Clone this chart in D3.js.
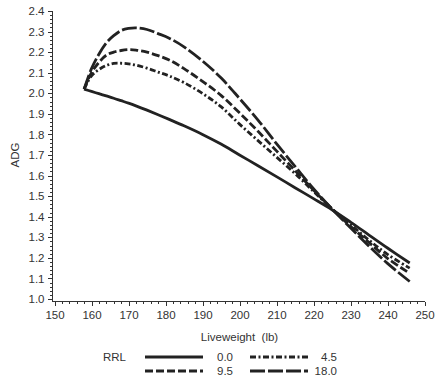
<!DOCTYPE html>
<meta charset="utf-8">
<style>
body { margin: 0; background: #fff; }
svg { font-family: "Liberation Sans", Arial, sans-serif; }
.axis text { font-size: 11.5px; fill: #333; }
.axis line, .axis path { stroke: #333; stroke-width: 1; shape-rendering: crispEdges; }
.curve { fill: none; stroke: #222; stroke-width: 2.8; }
.lab { font-size: 11.5px; fill: #333; }
</style>
<body>
<div id="chart"></div>
<script src="https://d3js.org/d3.v7.min.js"></script>
<script>

// liveweight (lb)
var weights = [158, 160, 162, 164, 166, 168, 170, 172, 175, 178, 181, 185, 190, 195, 200, 205, 210, 215, 220, 225, 230, 235, 240, 246];

// ADG for each RRL level
var rrl00  = [2.02, 2.009, 1.998, 1.987, 1.976, 1.964, 1.952, 1.939, 1.918, 1.896, 1.873, 1.842, 1.8, 1.753, 1.70, 1.648, 1.595, 1.541, 1.488, 1.434, 1.374, 1.311, 1.248, 1.175];
var rrl45  = [2.02, 2.085, 2.115, 2.135, 2.145, 2.146, 2.143, 2.137, 2.122, 2.103, 2.084, 2.052, 1.999, 1.935, 1.85, 1.77, 1.69, 1.61, 1.523, 1.438, 1.362, 1.286, 1.217, 1.15];
var rrl95  = [2.02, 2.10, 2.15, 2.185, 2.20, 2.208, 2.212, 2.21, 2.20, 2.183, 2.162, 2.12, 2.058, 1.99, 1.905, 1.815, 1.72, 1.625, 1.53, 1.438, 1.354, 1.275, 1.198, 1.125];
var rrl180 = [2.02, 2.12, 2.19, 2.245, 2.28, 2.305, 2.315, 2.318, 2.31, 2.29, 2.268, 2.226, 2.157, 2.075, 1.975, 1.87, 1.755, 1.645, 1.536, 1.438, 1.346, 1.257, 1.173, 1.085];

var seriesNames = ["0.0", "4.5", "9.5", "18.0"];
var xTicks = d3.range(150, 251, 10);
var yTicks = d3.range(1.0, 2.41, 0.1);

var width = 444, height = 384;

var svg = d3.select("#chart").append("svg")
    .attr("width", width)
    .attr("height", height);

var x = d3.scaleLinear().domain([150, 250]).range([54.5, 424.5]);
var y = d3.scaleLinear().domain([1.0, 2.4]).range([299, 11]);

var xAxisY = 301.5, yAxisX = 52;

// x axis: minor then major ticks
var gx = svg.append("g").attr("class", "axis")
    .attr("transform", "translate(0," + xAxisY + ")");
gx.call(d3.axisBottom(x).tickValues(d3.range(150, 251, 2)).tickSize(2.5).tickFormat(""));
gx.append("g").call(d3.axisBottom(x).tickValues(xTicks).tickSize(4.5).tickPadding(5).tickFormat(d3.format("d")));
gx.selectAll(".domain").remove();
gx.append("line").attr("x1", yAxisX).attr("x2", x(250)).attr("y1", 0).attr("y2", 0);

// y axis
var gy = svg.append("g").attr("class", "axis")
    .attr("transform", "translate(" + yAxisX + ",0)");
gy.call(d3.axisLeft(y).tickValues(d3.range(1.0, 2.401, 0.02)).tickSize(2.5).tickFormat(""));
gy.append("g").call(d3.axisLeft(y).tickValues(yTicks).tickSize(4.5).tickPadding(3).tickFormat(d3.format(".1f")));
gy.selectAll(".domain").remove();
gy.append("line").attr("x1", 0).attr("x2", 0).attr("y1", y(2.4)).attr("y2", xAxisY);

// axis titles
svg.append("text").attr("class", "lab")
    .attr("x", x(200)).attr("y", 341)
    .attr("text-anchor", "middle")
    .attr("xml:space", "preserve")
    .text("Liveweight  (lb)");
svg.append("text").attr("class", "lab")
    .attr("transform", "translate(19,155) rotate(-90)")
    .attr("text-anchor", "middle")
    .text("ADG");

// curves
var dashes = ["none", "6,2.5,2,2.5", "8,3", "15,3"];
var allSeries = [rrl00, rrl45, rrl95, rrl180];
var line = d3.line()
    .x(function(d, i) { return x(weights[i]); })
    .y(function(d) { return y(d); })
    .curve(d3.curveCatmullRom);

allSeries.forEach(function(s, k) {
    svg.append("path")
        .datum(s)
        .attr("class", "curve")
        .attr("stroke-dasharray", dashes[k])
        .attr("d", line);
});

// legend
svg.append("text").attr("class", "lab").attr("x", 103).attr("y", 361).text("RRL");
var legendPos = [
    {lx: 145, ty: 357, tx: 233},
    {lx: 250, ty: 357, tx: 337},
    {lx: 145, ty: 371, tx: 233},
    {lx: 250, ty: 371, tx: 337}
];
legendPos.forEach(function(p, k) {
    svg.append("line")
        .attr("x1", p.lx).attr("x2", p.lx + 58)
        .attr("y1", p.ty).attr("y2", p.ty)
        .attr("stroke", "#222").attr("stroke-width", 2.8)
        .attr("stroke-dasharray", dashes[k]);
    svg.append("text").attr("class", "lab")
        .attr("x", p.tx).attr("y", p.ty + 4)
        .attr("text-anchor", "end")
        .text(seriesNames[k]);
});

</script>
</body>
